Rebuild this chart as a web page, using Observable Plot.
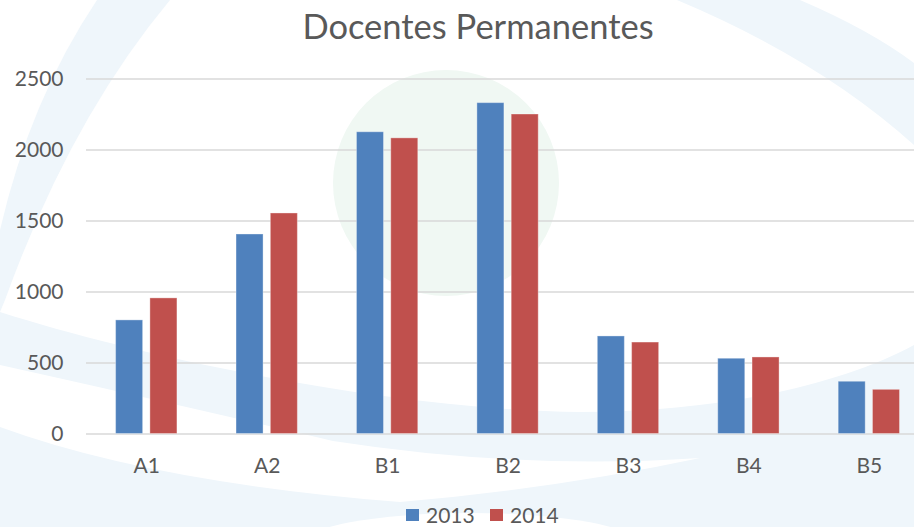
<!DOCTYPE html>
<html>
<head>
<meta charset="utf-8">
<script src="https://cdn.jsdelivr.net/npm/d3@7"></script>
<script src="https://cdn.jsdelivr.net/npm/@observablehq/plot@0.6"></script>
<style>
  html, body { margin: 0; padding: 0; overflow: hidden; background: #fff; }
  #wrap { position: relative; width: 914px; height: 527px; overflow: hidden; font-family: Lato, "Open Sans", sans-serif; color: #595959; }
  #bg { position: absolute; left: 0; top: 0; }
  #title { position: absolute; top: 4px; left: 478px; transform: translateX(-50%); font-size: 34.5px; white-space: nowrap; line-height: 44px; }
  #chart { position: absolute; left: 0; top: 58px; }
  #chart svg { overflow: visible; }
  .leg { position: absolute; top: 504px; height: 22px; font-size: 21px; line-height: 22px; display: flex; align-items: center; }
  .sw { display: inline-block; width: 13px; height: 12px; margin-right: 7px; }
</style>
</head>
<body>
<div id="wrap">
  <svg id="bg" width="914" height="527">
    <circle cx="446" cy="183" r="113" fill="#f0f8f3"/>
    <path d="M97,0 L170,0 Q70,120 5,300 L0,312 L0,230 Q30,100 97,0 Z" fill="#eff6fb"/>
    <path d="M0,312 C150,360 400,410 580,412 C720,412 840,385 914,345 L914,527 L0,527 Z" fill="#eff6fb"/>
    <path d="M0,365 Q180,405 333,441 Q520,470 700,458 Q560,488 400,502 Q150,482 0,427 Z" fill="#ffffff"/>
    <path d="M677,0 L800,0 Q870,30 914,63 L914,145 Q820,60 677,0 Z" fill="#eff6fb"/>
    <ellipse cx="470" cy="545" rx="170" ry="32" fill="#ffffff"/>
  </svg>
  <div id="title">Docentes Permanentes</div>
  <div id="chart"></div>
  <div id="legend"></div>
</div>
<script>
const categories = ["A1", "A2", "B1", "B2", "B3", "B4", "B5"];
const values2013 = [800, 1405, 2125, 2330, 687, 530, 368];
const values2014 = [955, 1553, 2082, 2250, 644, 539, 311];
const seriesNames = ["2013", "2014"];
const seriesColors = ["#4F81BD", "#C0504D"];
const yTicks = [0, 500, 1000, 1500, 2000, 2500];

const d2013 = categories.map((c, i) => ({cat: c, v: values2013[i]}));
const d2014 = categories.map((c, i) => ({cat: c, v: values2014[i]}));

const chart = Plot.plot({
  width: 914,
  height: 432,
  marginLeft: 86,
  marginRight: 0,
  marginTop: 20.5,
  marginBottom: 56.5,
  x: {domain: categories, range: [86, 929], padding: 0, round: false, axis: null},
  y: {domain: [0, 2500], axis: null},
  style: {background: "transparent", fontFamily: "Lato, 'Open Sans', sans-serif", color: "#595959", overflow: "visible"},
  marks: [
    Plot.ruleY(yTicks, {stroke: "#d9d9d9", strokeWidth: 1.6}),
    Plot.barY(d2013, {x: "cat", y: "v", fill: seriesColors[0], insetLeft: 29.6, insetRight: 63.8, stroke: "#ffffff", strokeOpacity: 0.35, strokeWidth: 1}),
    Plot.barY(d2014, {x: "cat", y: "v", fill: seriesColors[1], insetLeft: 63.9, insetRight: 29.5, stroke: "#ffffff", strokeOpacity: 0.35, strokeWidth: 1}),
    Plot.axisY({ticks: yTicks, tickSize: 0, tickPadding: 23, fontSize: 21, tickFormat: d => String(d), label: null}),
    Plot.axisX({tickSize: 0, tickPadding: 24.5, fontSize: 21, label: null})
  ]
});
document.getElementById("chart").appendChild(chart);

const legendPos = [406, 490];
const leg = document.getElementById("legend");
seriesNames.forEach((name, i) => {
  const item = document.createElement("div");
  item.className = "leg";
  item.style.left = legendPos[i] + "px";
  const sw = document.createElement("span");
  sw.className = "sw";
  sw.style.background = seriesColors[i];
  item.appendChild(sw);
  item.appendChild(document.createTextNode(name));
  leg.appendChild(item);
});
</script>
</body>
</html>
